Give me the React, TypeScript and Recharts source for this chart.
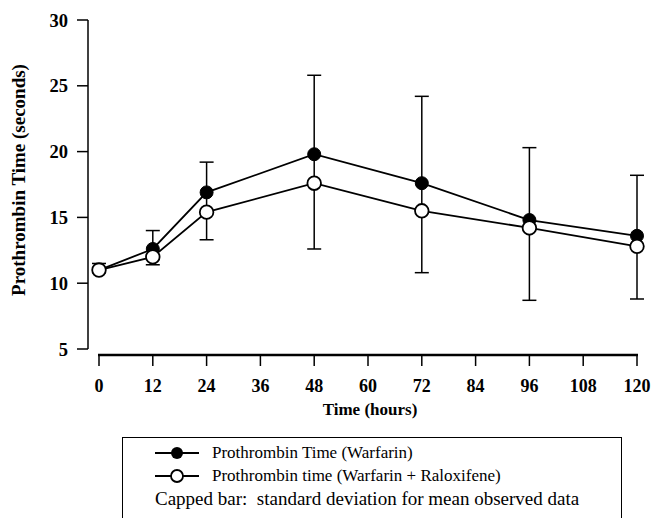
import {
  ComposedChart,
  Line,
  XAxis,
  YAxis,
  ErrorBar,
  ReferenceLine,
} from "recharts";

// sampling times (hours)
const hours = [0, 12, 24, 48, 72, 96, 120];
// mean prothrombin time, seconds
const warfarin = [11.0, 12.6, 16.9, 19.8, 17.6, 14.8, 13.6];
const warfarinRaloxifene = [11.0, 12.0, 15.4, 17.6, 15.5, 14.2, 12.8];
// capped SD bar ends as drawn on the figure
const sdTop = [11.5, 14.0, 19.2, 25.8, 24.2, 20.3, 18.2];
const sdBottom = [10.8, 11.4, 13.3, 12.6, 10.8, 8.7, 8.8];

const xTicks = [0, 12, 24, 36, 48, 60, 72, 84, 96, 108, 120];
const yTicks = [5, 10, 15, 20, 25, 30];

const data = hours.map((h, i) => ({
  hour: h,
  warfarin: warfarin[i],
  combo: warfarinRaloxifene[i],
  sd: [warfarin[i] - sdBottom[i], sdTop[i] - warfarin[i]],
}));

const FONT = '"Liberation Serif", "Times New Roman", serif';

const XTick = (props: any) => {
  const { x, y, payload } = props;
  return (
    <g>
      <line x1={x} x2={x} y1={y + 6} y2={y + 17} stroke="#000" strokeWidth={1.5} />
      <text x={x} y={y + 43} textAnchor="middle" fontFamily={FONT} fontSize={18} fontWeight="bold" fill="#000">
        {payload.value}
      </text>
    </g>
  );
};

const AxisBaseline = (props: any) => (
  <line x1={props.x1 - 1} x2={props.x2 + 1} y1={props.y1 + 6} y2={props.y2 + 6} stroke="#000" strokeWidth={2.5} />
);

const YTitle = () => {
  const cy = 180;
  return (
    <text
      x={25}
      y={cy}
      transform={`rotate(-90 25 ${cy})`}
      textAnchor="middle"
      fontFamily={FONT}
      fontSize={19}
      fontWeight="bold"
      fill="#000"
    >
      Prothrombin Time (seconds)
    </text>
  );
};

const XTitle = (props: any) => {
  const vb = props.viewBox || {};
  return (
    <text x={370} y={vb.y + 66} textAnchor="middle" fontFamily={FONT} fontSize={17} fontWeight="bold" fill="#000">
      Time (hours)
    </text>
  );
};

const legendRow: React.CSSProperties = {
  position: "absolute",
  left: 0,
  height: 23,
  display: "flex",
  alignItems: "center",
  whiteSpace: "nowrap",
};

export default function App() {
  return (
    <div style={{ position: "relative", width: 652, height: 518, overflow: "hidden", background: "#fff" }}>
      <style>{`body{margin:0}`}</style>
      <ComposedChart
        width={652}
        height={518}
        data={data}
        margin={{ top: 20, right: 15, left: 0, bottom: 129 }}
      >
        <XAxis
          dataKey="hour"
          type="number"
          domain={[0, 120]}
          ticks={xTicks}
          padding={{ left: 11, right: 0 }}
          axisLine={false}
          tickLine={false}
          tickSize={0}
          tickMargin={0}
          height={40}
          tick={<XTick />}
          label={<XTitle />}
        />
        <YAxis
          type="number"
          domain={[5, 30]}
          ticks={yTicks}
          width={88}
          axisLine={{ stroke: "#000", strokeWidth: 1.5 }}
          tickLine={{ stroke: "#000", strokeWidth: 1.5 }}
          tickSize={11}
          tickMargin={9}
          tick={{ fill: "#000", fontFamily: FONT, fontSize: 18.5, fontWeight: "bold" }}
          label={<YTitle />}
        />
        <ReferenceLine
          segment={[{ x: 0, y: 5 }, { x: 120, y: 5 }]}
          ifOverflow="visible"
          shape={<AxisBaseline />}
        />
        <Line
          dataKey="warfarin"
          stroke="#000"
          strokeWidth={1.8}
          dot={{ r: 6.5, fill: "#000", stroke: "#000", strokeWidth: 1 }}
          isAnimationActive={false}
        >
          <ErrorBar dataKey="sd" direction="y" width={7} stroke="#000" strokeWidth={1.5} isAnimationActive={false} />
        </Line>
        <Line
          dataKey="combo"
          stroke="#000"
          strokeWidth={1.8}
          dot={{ r: 6.8, fill: "#fff", stroke: "#000", strokeWidth: 1.8 }}
          isAnimationActive={false}
        />
      </ComposedChart>

      <div
        style={{
          position: "absolute",
          left: 122,
          top: 437,
          width: 498,
          height: 120,
          border: "1.5px solid #000",
          fontFamily: FONT,
          fontSize: 17,
          color: "#000",
        }}
      >
        <div style={{ ...legendRow, top: 3, left: 31 }}>
          <svg width={48} height={16}>
            <line x1={1} x2={45} y1={8} y2={8} stroke="#000" strokeWidth={2} />
            <circle cx={23} cy={8} r={6} fill="#000" />
          </svg>
          <span style={{ marginLeft: 10 }}>Prothrombin Time (Warfarin)</span>
        </div>
        <div style={{ ...legendRow, top: 26, left: 31 }}>
          <svg width={48} height={16}>
            <line x1={1} x2={45} y1={8} y2={8} stroke="#000" strokeWidth={2} />
            <circle cx={23} cy={8} r={6} fill="#fff" stroke="#000" strokeWidth={1.8} />
          </svg>
          <span style={{ marginLeft: 10 }}>Prothrombin time (Warfarin + Raloxifene)</span>
        </div>
        <div style={{ ...legendRow, top: 49, left: 32, fontSize: 19 }}>
          Capped bar:&nbsp; standard deviation for mean observed data
        </div>
      </div>
    </div>
  );
}
